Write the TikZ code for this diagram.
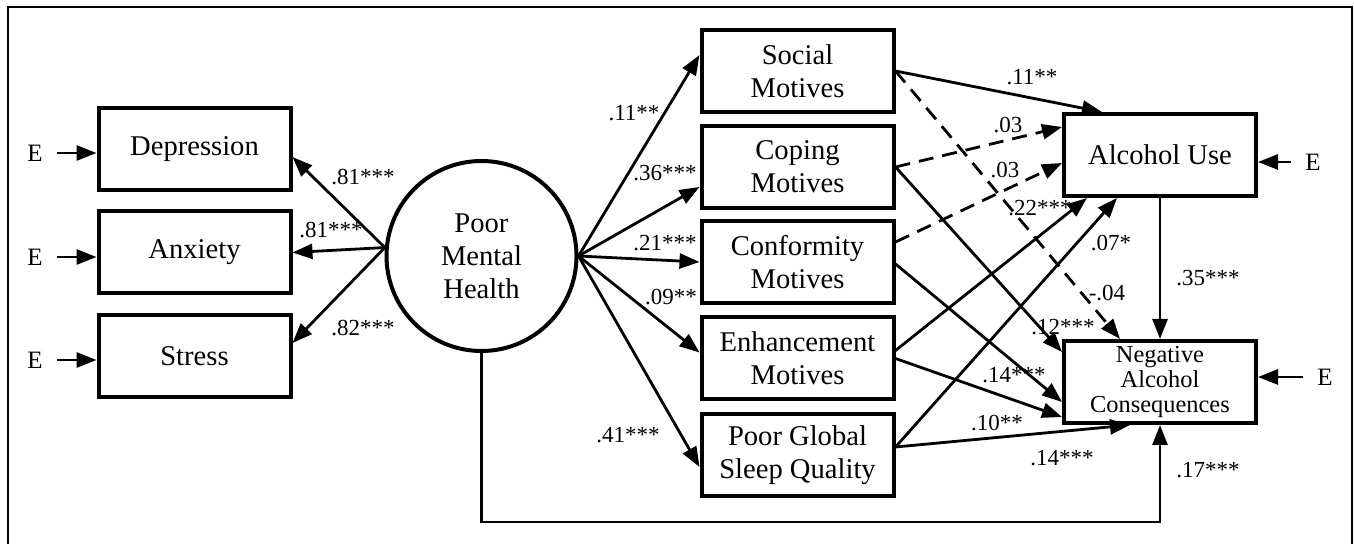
\documentclass[tikz,border=0pt]{standalone}
\usepackage{fontspec}
\setmainfont{Liberation Serif}
\usetikzlibrary{arrows.meta}
\usetikzlibrary{calc}

\tikzset{
  obs/.style={draw,line width=2pt,minimum width=96pt,minimum height=41pt,inner sep=1pt,align=center,
    font=\fontsize{14.3}{16.5}\selectfont},
  lat/.style={draw,circle,line width=2pt,minimum size=95pt,inner sep=0pt,align=center,
    font=\fontsize{14.3}{16.5}\selectfont},
  coef/.style={inner sep=0pt,font=\fontsize{11.5}{13}\selectfont},
  err/.style={inner sep=0pt,outer sep=0pt,font=\fontsize{12.5}{14}\selectfont},
  nonsig/.style={dash pattern=on 7.5pt off 4.5pt}
}

\begin{document}
\begin{tikzpicture}[x=0.5pt,y=-0.5pt,line width=1.4pt,>={Triangle[length=10pt,width=7.5pt]}]
    \useasboundingbox (0,0) rectangle (1354,544);
    \draw[line width=1.3pt] (8,544) -- (8,7) -- (1352,7) -- (1352,544);

    % indicators and latent factor
    \node[obs] (dep)    at (194.5,149)   {Depression};
    \node[obs] (anx)    at (194.5,252.5) {Anxiety};
    \node[obs] (stress) at (194.5,356)   {Stress};
    \node[lat] (mh)     at (481.5,256)   {Poor\\Mental\\Health};

    % mediators
    \node[obs] (soc)  at (797.5,71)    {Social\\Motives};
    \node[obs] (cop)  at (797.5,167)   {Coping\\Motives};
    \node[obs] (conf) at (797.5,262)   {Conformity\\Motives};
    \node[obs] (enh)  at (797.5,358.5) {Enhancement\\Motives};
    \node[obs] (slp)  at (797.5,455)   {Poor Global\\Sleep Quality};

    % outcomes
    \node[obs] (au)  at (1160,155) {Alcohol Use};
    \node[obs,font=\fontsize{12.2}{12.5}\selectfont] (nac) at (1160,382) {Negative\\Alcohol\\Consequences};

    % error terms
    \node[err] (e1) at (35,153)   {E};
    \node[err] (e2) at (35,257)   {E};
    \node[err] (e3) at (35,360)   {E};
    \node[err] (e4) at (1313,162) {E};
    \node[err] (e5) at (1325,377) {E};
    \coordinate (low) at (0,522);

    \draw[->,shorten <=7pt] (e1.east) -- (e1.east -| dep.west);
    \draw[->,shorten <=7pt] (e2.east) -- (e2.east -| anx.west);
    \draw[->,shorten <=7pt] (e3.east) -- (e3.east -| stress.west);
    \draw[->,shorten <=7pt] (e4.west) -- (e4.west -| au.east);
    \draw[->,shorten <=7pt] (e5.west) -- (e5.west -| nac.east);

    \path[->] (mh.175) edge ($(dep.east)+(0,8)$)
                       edge (anx.east)
                       edge ($(stress.east)+(0,-13)$)
              (mh.east) edge ($(soc.west)+(0,-16)$)
                        edge ($(cop.west)+(0,20)$)
                        edge (conf.west)
                        edge ($(enh.west)+(0,-6)$)
                        edge ($(slp.west)+(0,12)$)
              (soc.east) edge ($(au.north)+(-58,0)$)
                         edge[nonsig] ($(nac.north)+(-40,0)$)
              (cop.east) edge[nonsig] ($(au.west)+(0,-28)$)
                         edge ($(nac.west)+(0,-30)$)
              ($(conf.east)+(0,-20)$) edge[nonsig] ($(au.west)+(0,8)$)
              ($(conf.east)+(0,2)$) edge ($(nac.west)+(0,20)$)
              ($(enh.east)+(0,-8)$) edge ($(au.south)+(-73,0)$)
              (enh.east) edge ($(nac.west)+(0,35)$)
              ($(slp.east)+(0,-8)$) edge ($(au.south)+(-43,0)$)
                                    edge ($(nac.south)+(-30,0)$)
              (au.south) edge (nac.north);
    \draw[->] (mh.south) -- (mh.south |- low) -| (nac.south);

    % coefficients
    \node[coef] (c1)  at (363,177)  {.81***};
    \node[coef] (c2)  at (331,230)  {.81***};
    \node[coef] (c3)  at (363,328)  {.82***};
    \node[coef] (c4)  at (634,113)  {.11**};
    \node[coef] (c5)  at (665,173)  {.36***};
    \node[coef] (c6)  at (665,243)  {.21***};
    \node[coef] (c7)  at (671,297)  {.09**};
    \node[coef] (c8)  at (628,435)  {.41***};
    \node[coef] (c9)  at (1032,77)  {.11**};
    \node[coef] (c10) at (1008,125) {.03};
    \node[coef] (c11) at (1005,170) {.03};
    \node[coef] (c12) at (1040,208) {.22***};
    \node[coef] (c13) at (1111,243) {.07*};
    \node[coef] (c14) at (1107,293) {-.04};
    \node[coef] (c15) at (1208,278) {.35***};
    \node[coef] (c16) at (1063,327) {.12***};
    \node[coef] (c17) at (1014,375) {.14***};
    \node[coef] (c18) at (997,423)  {.10**};
    \node[coef] (c19) at (1062,458) {.14***};
    \node[coef] (c20) at (1208,470) {.17***};
\end{tikzpicture}
\end{document}
